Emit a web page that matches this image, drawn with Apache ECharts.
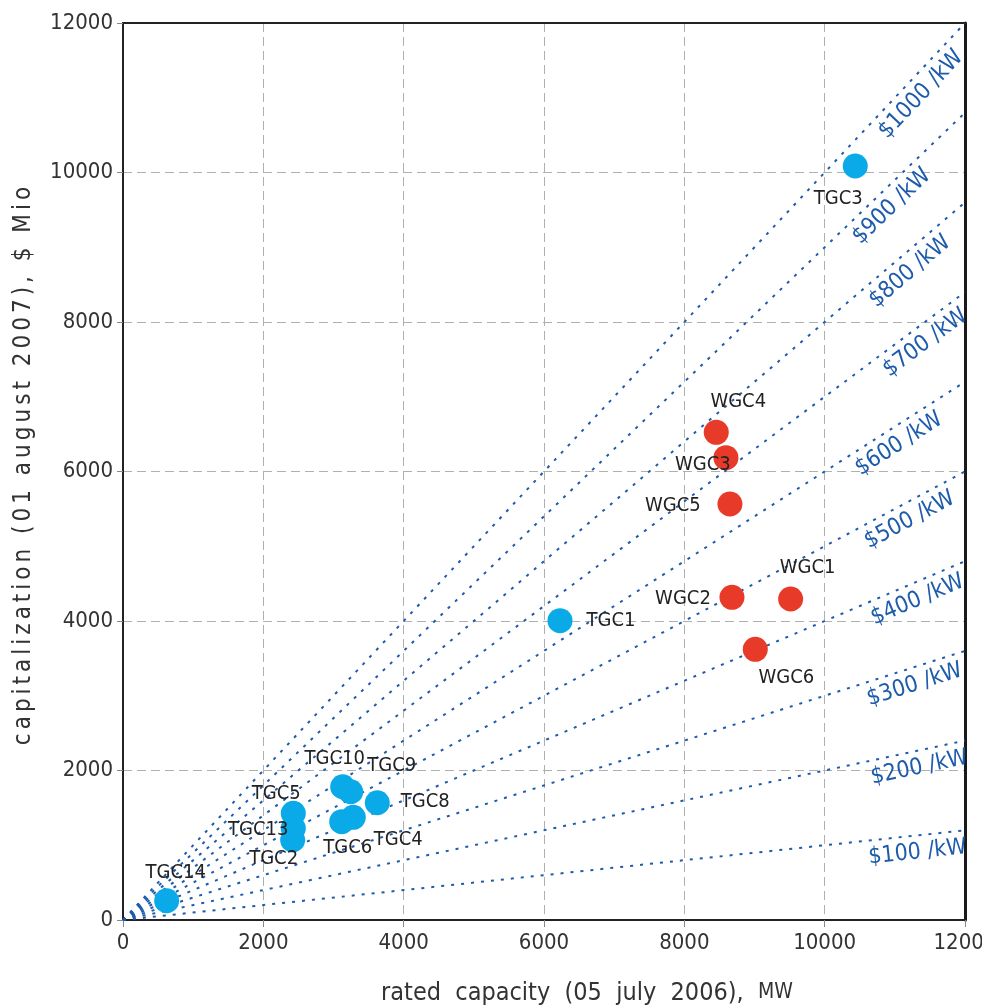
<!DOCTYPE html>
<html>
<head>
<meta charset="utf-8">
<script src="https://cdn.jsdelivr.net/npm/echarts@6/dist/echarts.min.js"></script>
<style>
  html, body { margin: 0; padding: 0; background: #ffffff; }
  #chart { width: 982px; height: 1006px; }
</style>
</head>
<body>
<div id="chart"></div>
<script>
// Capacity (MW) vs. capitalization ($ Mio) of generating companies
const tgcNames = ['TGC3', 'TGC1', 'TGC10', 'TGC9', 'TGC8', 'TGC5', 'TGC13', 'TGC2', 'TGC6', 'TGC4', 'TGC14'];
const tgcCapacity = [10436, 6228, 3131, 3245, 3624, 2427, 2427, 2418, 3117, 3282, 622];
const tgcCapitalization = [10087, 4004, 1783, 1716, 1569, 1427, 1227, 1070, 1315, 1374, 258];

const wgcNames = ['WGC4', 'WGC3', 'WGC5', 'WGC2', 'WGC1', 'WGC6'];
const wgcCapacity = [8455, 8593, 8650, 8679, 9515, 9011];
const wgcCapitalization = [6524, 6185, 5565, 4317, 4294, 3621];

// iso-price guide lines, $ per kW
const rates = [100, 200, 300, 400, 500, 600, 700, 800, 900, 1000];
const rateLabels = ['$100 /kW', '$200 /kW', '$300 /kW', '$400 /kW', '$500 /kW', '$600 /kW', '$700 /kW', '$800 /kW', '$900 /kW', '$1000 /kW'];
const guideMaxCapacity = 12000;

const xTicks = [0, 2000, 4000, 6000, 8000, 10000, 12000];
const yTicks = [0, 2000, 4000, 6000, 8000, 10000, 12000];

const xTitle = 'rated capacity (05 july 2006),';
const xTitleUnit = 'MW';
const yTitle = 'capitalization (01 august 2007), $ Mio';

// label placement around each marker (pixel offsets from marker centre)
const labelOffsets = {
  TGC3: [-17, 33], TGC1: [51, 0], TGC10: [-8, -28], TGC9: [41, -26], TGC8: [48, -1],
  TGC5: [-17, -20], TGC13: [-35, 2], TGC2: [-19, 19], TGC6: [6, 26], TGC4: [45, 23], TGC14: [9, -28],
  WGC4: [22, -31], WGC3: [-23, 7], WGC5: [-57, 2], WGC2: [-49, 1], WGC1: [17, -31], WGC6: [31, 28]
};
// capacity (MW) along each guide line where its label sits
const rateLabelAt = [11300, 11300, 11210, 11230, 11100, 10930, 11290, 11060, 10790, 11200];

const FONT = '"DejaVu Sans Condensed", "Liberation Sans Narrow", "Noto Sans", sans-serif';
const GUIDE_COLOR = '#1d5bab';

function pointData(names, xs, ys) {
  return names.map((n, i) => ({
    name: n,
    value: [xs[i], ys[i]],
    label: { offset: labelOffsets[n] }
  }));
}

const guideSeries = rates.map(r => ({
  type: 'line',
  name: '$' + r + ' /kW',
  data: [[0, 0], [guideMaxCapacity, r * guideMaxCapacity / 1000]],
  symbol: 'none',
  silent: true,
  z: 1,
  lineStyle: { color: GUIDE_COLOR, width: 2, type: [3, 7] }
}));

const pointLabel = {
  show: true,
  position: 'inside',
  formatter: '{b}',
  color: '#222',
  fontFamily: FONT,
  fontSize: 20
};

const frameAxis = {
  axisLine: { show: true, onZero: false, lineStyle: { color: '#222', width: 2 } },
  axisTick: { show: false },
  axisLabel: { show: false },
  splitLine: { show: false }
};

const chart = echarts.init(document.getElementById('chart'), null, { renderer: 'canvas' });

chart.setOption({
  animation: false,
  backgroundColor: '#ffffff',
  grid: {
    left: 123, right: 17, top: 23, bottom: 86,
    outerBoundsMode: 'none', containLabel: false
  },
  xAxis: [{
    type: 'value', min: xTicks[0], max: xTicks[xTicks.length - 1], interval: 2000,
    axisLine: { show: true, onZero: false, lineStyle: { color: '#222', width: 2 } },
    axisTick: { show: true, length: 7, lineStyle: { color: '#888' } },
    axisLabel: { color: '#333', fontFamily: FONT, fontSize: 22, margin: 12, formatter: v => String(v), showMaxLabel: true },
    splitLine: { show: true, lineStyle: { color: '#b0b0b0', type: [9, 5], width: 1 } }
  }, Object.assign({
    type: 'value', position: 'top', min: xTicks[0], max: xTicks[xTicks.length - 1]
  }, frameAxis)],
  yAxis: [{
    type: 'value', min: yTicks[0], max: yTicks[yTicks.length - 1], interval: 2000,
    axisLine: { show: true, onZero: false, lineStyle: { color: '#222', width: 2 } },
    axisTick: { show: true, length: 6, lineStyle: { color: '#888' } },
    axisLabel: { color: '#333', fontFamily: FONT, fontSize: 22, margin: 10, formatter: v => String(v) },
    splitLine: { show: true, lineStyle: { color: '#b0b0b0', type: [9, 5], width: 1 } }
  }, Object.assign({
    type: 'value', position: 'right', min: yTicks[0], max: yTicks[yTicks.length - 1]
  }, frameAxis, { axisLine: { show: true, onZero: false, lineStyle: { color: '#1a1a1a', width: 3 } } })],
  series: guideSeries.concat([
    {
      type: 'scatter', name: 'TGC', z: 5,
      symbolSize: 25,
      itemStyle: { color: '#0aaae9', opacity: 1 },
      label: pointLabel,
      data: pointData(tgcNames, tgcCapacity, tgcCapitalization)
    },
    {
      type: 'scatter', name: 'WGC', z: 5,
      symbolSize: 25,
      itemStyle: { color: '#e83a28', opacity: 1 },
      label: pointLabel,
      data: pointData(wgcNames, wgcCapacity, wgcCapitalization)
    }
  ])
});

// letter-spaced rich text: every character becomes its own padded token
function spaced(str, styleName) {
  return str.split('').map(c => '{' + styleName + '|' + c + '}').join('');
}

// axis titles and rotated price labels, positioned from the chart's own scales
function decorate() {
  const graphics = [];
  const pxOffset = 17;
  rates.forEach((r, i) => {
    const cap = rateLabelAt[i];
    const p0 = chart.convertToPixel({ gridIndex: 0 }, [0, 0]);
    const p1 = chart.convertToPixel({ gridIndex: 0 }, [cap, r * cap / 1000]);
    const dx = p1[0] - p0[0], dy = p1[1] - p0[1];
    const len = Math.sqrt(dx * dx + dy * dy);
    // unit normal pointing below the line
    const nx = -dy / len, ny = dx / len;
    const angle = Math.atan2(-dy, dx);
    graphics.push({
      type: 'text',
      x: p1[0] + nx * pxOffset,
      y: p1[1] + ny * pxOffset,
      rotation: angle,
      z: 10,
      silent: true,
      style: {
        text: rateLabels[i],
        fill: GUIDE_COLOR,
        font: '23px ' + FONT,
        align: 'center', verticalAlign: 'middle',
        textAlign: 'center', textVerticalAlign: 'middle'
      }
    });
  });
  graphics.push({
    type: 'text', x: 587, y: 993, silent: true,
    style: {
      text: '{a|' + xTitle.split(' ').join('  ') + '  }{b|' + xTitleUnit + '}',
      rich: {
        a: { fontFamily: FONT, fontSize: 25, fill: '#333', color: '#333' },
        b: { fontFamily: FONT, fontSize: 21, fill: '#333', color: '#333' }
      },
      fill: '#333',
      align: 'center', verticalAlign: 'middle', textAlign: 'center', textVerticalAlign: 'middle'
    }
  });
  graphics.push({
    type: 'text', x: 24, y: 466, rotation: Math.PI / 2, silent: true,
    style: {
      text: spaced(yTitle, 'l'),
      rich: {
        l: { fontFamily: FONT, fontSize: 24, fill: '#333', color: '#333', padding: [0, 2, 0, 2] }
      },
      fill: '#333',
      align: 'center', verticalAlign: 'middle', textAlign: 'center', textVerticalAlign: 'middle'
    }
  });
  chart.setOption({ graphic: { elements: graphics } });
}
decorate();
</script>
</body>
</html>
